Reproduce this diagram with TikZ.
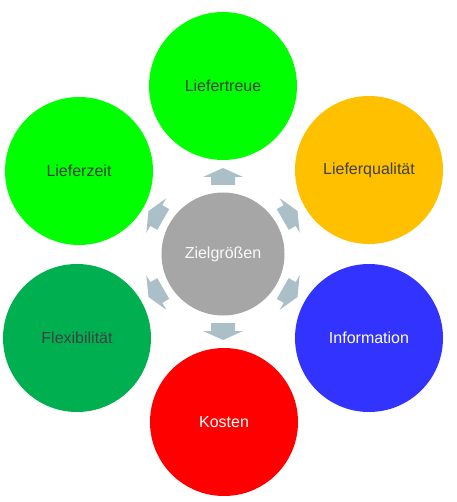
\documentclass[tikz,border=0pt]{standalone}
\usepackage{fontspec}
\setmainfont{Liberation Sans}
\definecolor{cgreen}{HTML}{00FF00}
\definecolor{corange}{HTML}{FFC000}
\definecolor{cblue}{HTML}{3333FF}
\definecolor{cred}{HTML}{FF0000}
\definecolor{cdgreen}{HTML}{00B050}
\definecolor{cgray}{HTML}{A6A6A6}
\definecolor{carrow}{HTML}{ABBFC8}
\definecolor{ctext}{HTML}{404040}
\begin{document}
\begin{tikzpicture}[x=1pt,y=-1pt,
  outer/.style={circle, minimum size=148pt, inner sep=0pt, font=\fontsize{16}{18}\selectfont, text=ctext},
  inner/.style={circle, minimum size=123pt, inner sep=0pt, fill=cgray, font=\fontsize{16}{18}\selectfont, text=white!95!gray},
  blockarrow/.style={fill=carrow, draw=none}]
\useasboundingbox (0,0) rectangle (456,502);
\node[inner] (c) at (223,254) {Zielgrößen};
\node[outer, fill=cgreen] (lt) at (223,86) {Liefertreue};
\node[outer, fill=corange] (lq) at (369,170) {Lieferqualität};
\node[outer, fill=cblue, text=white] (inf) at (369,338) {Information};
\node[outer, fill=cred, text=white] (ko) at (224,422) {Kosten};
\node[outer, fill=cdgreen] (fl) at (77,338) {Flexibilität};
\node[outer, fill=cgreen] (lz) at (79,171) {Lieferzeit};
\foreach \a in {90,30,-30,-90,-150,150}{
  \begin{scope}[shift={(c.center)}, rotate=-\a]
    \fill[blockarrow] (69,-12) -- (77,-12) -- (77,-20) -- (86,0) -- (77,20) -- (77,12) -- (69,12) -- cycle;
  \end{scope}
}
\end{tikzpicture}
\end{document}
